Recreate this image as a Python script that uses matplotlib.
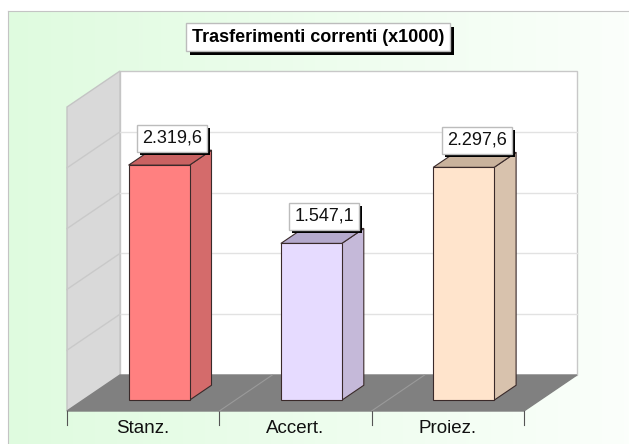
import matplotlib
matplotlib.use("Agg")
import matplotlib.pyplot as plt
import numpy as np
from matplotlib.patches import Polygon, Rectangle
from matplotlib.transforms import IdentityTransform

plt.rcParams['font.family'] = ['Liberation Sans', 'DejaVu Sans']

# Data
categories = ['Stanz.', 'Accert.', 'Proiez.']
values = [2319.6, 1547.1, 2297.6]
value_labels = ['2.319,6', '1.547,1', '2.297,6']
title = 'Trasferimenti correnti (x1000)'
y_max = 3000
y_step = 600

front_colors = ['#ff8080', '#e6dbff', '#ffe4cc']
side_colors = ['#d46b6b', '#c5b9d9', '#d8c2ad']
top_colors = ['#c96262', '#b4a9cc', '#c9b29c']

# Layout (pixels of a 629x444 canvas)
W, H = 629, 444
X0_PX, CAT_PX = 67.0, 152.3          # left front corner, width of one category
BASE_PX, VAL_PX = 411.0, 304.0 / y_max  # floor front line, pixels per unit
DEPTH_X_PX, DEPTH_Y_PX = 53.0, 36.0   # oblique depth of the box

DX = DEPTH_X_PX / CAT_PX
DY = DEPTH_Y_PX / VAL_PX
BAR_W = 0.4
D_FRONT, D_BACK = 0.30, 0.715

fig = plt.figure(figsize=(W / 100, H / 100), dpi=100)
fig.patch.set_facecolor('white')

# green gradient panel
bg = fig.add_axes([8 / W, 0, 1 - 8 / W, (H - 11) / H])
grad = np.linspace(0, 1, 256)
c_left = np.array([0.875, 0.985, 0.875])
c_right = np.array([0.985, 1.0, 0.985])
img = c_left[None, None, :] * (1 - grad[None, :, None]) + c_right[None, None, :] * grad[None, :, None]
bg.imshow(img, aspect='auto', extent=[0, 1, 0, 1])
bg.set_xlim(0, 1)
bg.set_ylim(0, 1)
for s in bg.spines.values():
    s.set_visible(False)
bg.spines['left'].set_visible(True)
bg.spines['top'].set_visible(True)
bg.spines['left'].set_color('#c4c4c4')
bg.spines['top'].set_color('#c4c4c4')
bg.set_xticks([])
bg.set_yticks([])
bg.set_zorder(0)

ax = fig.add_axes([0, 0, 1, 1])
ax.set_facecolor('none')
ax.set_xlim(-X0_PX / CAT_PX, (W - X0_PX) / CAT_PX)
ax.set_ylim(-(H - BASE_PX) / VAL_PX, BASE_PX / VAL_PX)
ax.axis('off')
ax.set_zorder(2)

n = len(categories)


def pt(x, v, d):
    return (x + d * DX, v + d * DY)


# back wall
ax.add_patch(Polygon([pt(0, 0, 1), pt(n, 0, 1), pt(n, y_max, 1), pt(0, y_max, 1)],
                     closed=True, facecolor='white', edgecolor='#c8c8c8', lw=1, zorder=1))
# left wall
ax.add_patch(Polygon([pt(0, 0, 0), pt(0, 0, 1), pt(0, y_max, 1), pt(0, y_max, 0)],
                     closed=True, facecolor='#d9d9d9', edgecolor='#c4c4c4', lw=1, zorder=1))
# gridlines on back and side walls
for g in np.arange(y_step, y_max, y_step):
    xs, ys = zip(pt(0, g, 1), pt(n, g, 1))
    ax.plot(xs, ys, color='#e2e2e2', lw=1, zorder=1.5)
    xs, ys = zip(pt(0, g, 0), pt(0, g, 1))
    ax.plot(xs, ys, color='#c9c9c9', lw=1, zorder=1.6)

# floor
ax.add_patch(Polygon([pt(0, 0, 0), pt(n, 0, 0), pt(n, 0, 1), pt(0, 0, 1)],
                     closed=True, facecolor='#808080', edgecolor='#808080', lw=1, zorder=2))
for i in range(1, n):
    xs, ys = zip(pt(i, 0, 0), pt(i, 0, 1))
    ax.plot(xs, ys, color='#9a9a9a', lw=0.8, zorder=2.1)

# category ticks and labels
tick_len = 14 / VAL_PX
for i in range(n + 1):
    ax.plot([i, i], [0, -tick_len], color='#555555', lw=0.8, zorder=2)
for i, cat in enumerate(categories):
    ax.text(i + 0.5, -17 / VAL_PX, cat, ha='center', va='center', fontsize=13.5,
            color='#111111', zorder=3)

# bars
for i, v in enumerate(values):
    x1 = i + 0.5 - BAR_W / 2
    x2 = i + 0.5 + BAR_W / 2
    side = [pt(x2, 0, D_FRONT), pt(x2, 0, D_BACK), pt(x2, v, D_BACK), pt(x2, v, D_FRONT)]
    top = [pt(x1, v, D_FRONT), pt(x2, v, D_FRONT), pt(x2, v, D_BACK), pt(x1, v, D_BACK)]
    front = [pt(x1, 0, D_FRONT), pt(x2, 0, D_FRONT), pt(x2, v, D_FRONT), pt(x1, v, D_FRONT)]
    for poly, col in ((side, side_colors[i]), (top, top_colors[i]), (front, front_colors[i])):
        ax.add_patch(Polygon(poly, closed=True, facecolor=col, edgecolor='#3a2a2a',
                             lw=0.8, zorder=4))

# value labels
value_texts = []
d_mid = (D_FRONT + D_BACK) / 2
for i, (v, lab) in enumerate(zip(values, value_labels)):
    anchor = pt(i + 0.5, v, d_mid)
    t = ax.annotate(lab, anchor, xytext=(2, 11), textcoords='offset pixels', ha='center',
                    va='bottom', fontsize=13, color='#111111', zorder=6,
                    bbox=dict(boxstyle='square,pad=0.28', facecolor='white',
                              edgecolor='#bcbcbc', lw=1))
    value_texts.append(t)

# title
tt = fig.text(318 / W, 1 - 37 / H, title, ha='center', va='center', fontsize=13,
              fontweight='bold', color='black', zorder=6,
              bbox=dict(boxstyle='square,pad=0.3', facecolor='white', edgecolor='#bcbcbc'))

# black drop shadows behind the boxes
fig.canvas.draw()
for t in value_texts:
    bb = t.get_bbox_patch().get_window_extent()
    ax.add_patch(Rectangle((bb.x0 + 3, bb.y0 - 3), bb.width, bb.height,
                           transform=IdentityTransform(), facecolor='black',
                           edgecolor='none', zorder=5, clip_on=False))
bb = tt.get_bbox_patch().get_window_extent()
fig.patches.append(Rectangle((bb.x0 + 4, bb.y0 - 4), bb.width, bb.height,
                             transform=IdentityTransform(), facecolor='black',
                             edgecolor='none', zorder=5, figure=fig))

fig.savefig('out.png', dpi=100)
